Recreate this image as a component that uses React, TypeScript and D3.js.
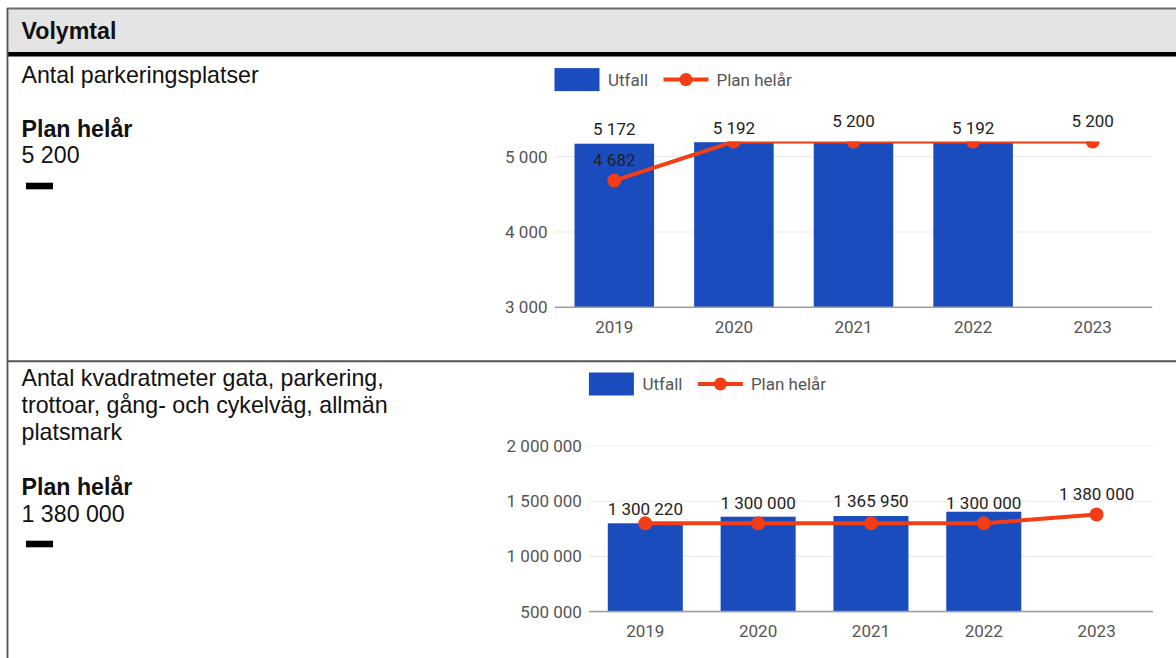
import React from "react";
import * as d3 from "d3";

// ---------- data ----------
const years = ["2019", "2020", "2021", "2022", "2023"];

const parkTicks = [3000, 4000, 5000];
const parkDomain = [3000, 5200];
const parkUtfall: (number | null)[] = [5172, 5192, 5190, 5192, null];
const parkPlan: (number | null)[] = [4682, 5200, 5200, 5200, 5200];
const parkBarLabels: (number | null)[] = [5172, 5192, null, 5192, null];
const parkPlanLabels: (number | null)[] = [4682, null, 5200, null, 5200];

const ytaTicks = [500000, 1000000, 1500000, 2000000];
const ytaDomain = [500000, 2000000];
const ytaUtfall: (number | null)[] = [1300220, 1360000, 1365950, 1405000, null];
const ytaPlan: (number | null)[] = [1300000, 1300000, 1300000, 1300000, 1380000];
const ytaBarLabels: (number | null)[] = [1300220, null, 1365950, null, null];
const ytaPlanLabels: (number | null)[] = [null, 1300000, null, 1300000, 1380000];

const legendLabels = ["Utfall", "Plan helår"];

// ---------- style ----------
const BLUE = "#1b4cbe";
const RED = "#f33d14";
const AXIS_TXT = "#555";
const ANN_TXT = "#222";
const CHART_FONT = "Roboto, Arial, sans-serif";
const TABLE_FONT = "'Liberation Sans', Arial, Helvetica, sans-serif";
const TABLE_SIZE = 23.2;

const fmt = d3
  .formatLocale({ decimal: ",", thousands: " ", grouping: [3], currency: ["", ""] })
  .format(",d");

type ChartProps = {
  id: string;
  ticks: number[];
  domain: number[];
  utfall: (number | null)[];
  plan: (number | null)[];
  barLabels: (number | null)[];
  planLabels: (number | null)[];
  x0: number;
  x1: number;
  yBottom: number;
  yTop: number;
};

function Chart(p: ChartProps) {
  const x = d3.scaleBand<string>().domain(years).range([p.x0, p.x1]).paddingInner(0.335).paddingOuter(0.1675);
  const y = d3.scaleLinear().domain(p.domain).range([p.yBottom, p.yTop]);
  const cx = (i: number) => (x(years[i]) as number) + x.bandwidth() / 2;
  const pts = p.plan
    .map((v, i) => (v == null ? null : ([cx(i), y(v)] as [number, number])))
    .filter((d) => d != null) as [number, number][];
  const line = d3.line();
  const legY = p.yTop - 62;
  const lx = p.x0;
  return (
    <g>
      <defs>
        <clipPath id={p.id}>
          <rect x={p.x0} y={p.yTop} width={p.x1 - p.x0} height={p.yBottom - p.yTop + 1} />
        </clipPath>
      </defs>
      {/* legend */}
      <rect x={lx} y={legY - 11.5} width={45} height={23} fill={BLUE} />
      <text x={lx + 53.5} y={legY} dy="0.35em" fontFamily={CHART_FONT} fontSize={17} fill={AXIS_TXT}>
        {legendLabels[0]}
      </text>
      <line x1={lx + 109} x2={lx + 154} y1={legY} y2={legY} stroke={RED} strokeWidth={4} />
      <circle cx={lx + 131.5} cy={legY} r={6.5} fill={RED} />
      <text x={lx + 162} y={legY} dy="0.35em" fontFamily={CHART_FONT} fontSize={17} fill={AXIS_TXT}>
        {legendLabels[1]}
      </text>
      {/* gridlines & y labels */}
      {p.ticks.map((t) => (
        <g key={t}>
          {t !== p.domain[0] && (
            <line x1={p.x0} x2={p.x1} y1={y(t)} y2={y(t)} stroke="#ebebeb" strokeWidth={1.2} />
          )}
          <text
            x={p.x0 - 7}
            y={y(t)}
            dy="0.35em"
            textAnchor="end"
            fontFamily={CHART_FONT}
            fontSize={17}
            fill={AXIS_TXT}
          >
            {fmt(t)}
          </text>
        </g>
      ))}
      <g clipPath={`url(#${p.id})`}>
        {p.utfall.map((v, i) =>
          v == null ? null : (
            <rect
              key={i}
              x={x(years[i])}
              y={y(v)}
              width={x.bandwidth()}
              height={p.yBottom - y(v)}
              fill={BLUE}
            />
          )
        )}
        <line x1={p.x0} x2={p.x1} y1={p.yBottom} y2={p.yBottom} stroke="#9e9e9e" strokeWidth={1.8} />
        <path d={line(pts) || ""} fill="none" stroke={RED} strokeWidth={4} strokeLinejoin="round" />
        {pts.map((d, i) => (
          <circle key={i} cx={d[0]} cy={d[1]} r={7} fill={RED} />
        ))}
      </g>
      {/* annotations */}
      {p.barLabels.map((v, i) =>
        v == null ? null : (
          <text
            key={"b" + i}
            x={cx(i)}
            y={y(p.utfall[i] as number) - 14.5}
            dy="0.35em"
            textAnchor="middle"
            fontFamily={CHART_FONT}
            fontSize={17}
            fill={ANN_TXT}
          >
            {fmt(v)}
          </text>
        )
      )}
      {p.planLabels.map((v, i) =>
        v == null ? null : (
          <text
            key={"l" + i}
            x={cx(i)}
            y={y(p.plan[i] as number) - 20.5}
            dy="0.35em"
            textAnchor="middle"
            fontFamily={CHART_FONT}
            fontSize={17}
            fill={ANN_TXT}
          >
            {fmt(v)}
          </text>
        )
      )}
      {/* x labels */}
      {years.map((yr, i) => (
        <text
          key={yr}
          x={cx(i)}
          y={p.yBottom + 19.5}
          dy="0.35em"
          textAnchor="middle"
          fontFamily={CHART_FONT}
          fontSize={17}
          fill={AXIS_TXT}
        >
          {yr}
        </text>
      ))}
    </g>
  );
}

export default function App() {
  const W = 1176;
  const H = 658;
  const tx = 21.5;
  return (
    <svg
      width={W}
      height={H}
      style={{ position: "absolute", left: 0, top: 0, background: "#fff" }}
      xmlns="http://www.w3.org/2000/svg"
    >
      <rect x={0} y={0} width={W} height={H} fill="#fff" />
      {/* table header */}
      <rect x={7} y={8} width={W} height={44} fill="#e4e4e4" />
      <line x1={7} x2={W} y1={8.5} y2={8.5} stroke="#6e6e6e" strokeWidth={2} />
      <rect x={7} y={52} width={W} height={4.5} fill="#000" />
      <line x1={7.5} x2={7.5} y1={8} y2={H} stroke="#555" strokeWidth={1.8} />
      <line x1={7} x2={W} y1={361.3} y2={361.3} stroke="#555" strokeWidth={2} />
      <text x={tx} y={39} fontFamily={TABLE_FONT} fontWeight="bold" fontSize={TABLE_SIZE} fill="#111">
        Volymtal
      </text>

      {/* row texts */}
      <g fontFamily={TABLE_FONT} fontSize={TABLE_SIZE} fill="#111">
        <text x={tx} y={82.5}>Antal parkeringsplatser</text>
        <text x={tx} y={136.7} fontWeight="bold">Plan helår</text>
        <text x={tx} y={163.3}>5 200</text>
        <rect x={26} y={182.7} width={27} height={6.6} fill="#000" />

        <text x={tx} y={386}>Antal kvadratmeter gata, parkering,</text>
        <text x={tx} y={413.3}>trottoar, gång- och cykelväg, allmän</text>
        <text x={tx} y={440}>platsmark</text>
        <text x={tx} y={495} fontWeight="bold">Plan helår</text>
        <text x={tx} y={521.7}>1 380 000</text>
        <rect x={26} y={540.7} width={27} height={6.6} fill="#000" />
      </g>

      <Chart
        id="clipPark"
        ticks={parkTicks}
        domain={parkDomain}
        utfall={parkUtfall}
        plan={parkPlan}
        barLabels={parkBarLabels}
        planLabels={parkPlanLabels}
        x0={554.5}
        x1={1152.5}
        yBottom={307.3}
        yTop={141.6}
      />
      <Chart
        id="clipYta"
        ticks={ytaTicks}
        domain={ytaDomain}
        utfall={ytaUtfall}
        plan={ytaPlan}
        barLabels={ytaBarLabels}
        planLabels={ytaPlanLabels}
        x0={588.9}
        x1={1153}
        yBottom={611.7}
        yTop={446}
      />
    </svg>
  );
}
